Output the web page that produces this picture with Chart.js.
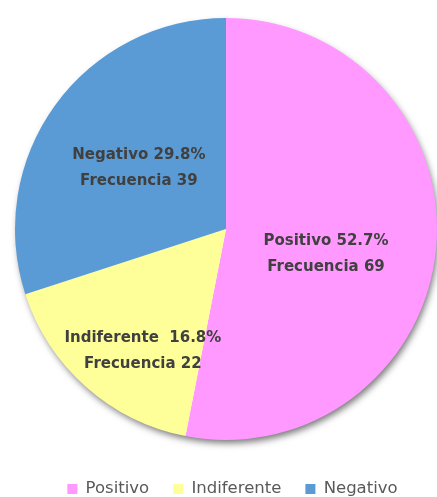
<!DOCTYPE html>
<html>
<head>
<meta charset="utf-8">
<script src="https://cdn.jsdelivr.net/npm/chart.js@4"></script>
<style>
  html, body { margin: 0; padding: 0; background: #ffffff; }
  #chart { display: block; }
</style>
</head>
<body>
<canvas id="chart" width="437" height="497"></canvas>
<script>
const categories = ["Positivo", "Indiferente", "Negativo"];
const frequencies = [69, 22, 39];
const percentLabels = ["52.7%", "16.8%", "29.8%"];
const sliceColors = ["#ff99ff", "#ffff99", "#5b9bd5"];

// where each slice's label sits, as a fraction of the radius from the centre
const labelOffsets = [
  { x: 0.474, y: 0.110, gap: " " },
  { x: -0.394, y: 0.570, gap: "  " },
  { x: -0.413, y: -0.298, gap: " " },
];

const pieShadow = {
  id: "pieShadow",
  beforeDatasetsDraw(chart) {
    const arc = chart.getDatasetMeta(0).data[0];
    if (!arc) return;
    const ctx = chart.ctx;
    ctx.save();
    ctx.shadowColor = "rgba(0, 0, 0, 0.55)";
    ctx.shadowBlur = 7;
    ctx.shadowOffsetX = 2;
    ctx.shadowOffsetY = 4;
    ctx.fillStyle = "#ffffff";
    ctx.beginPath();
    ctx.arc(arc.x, arc.y, arc.outerRadius - 1, 0, Math.PI * 2);
    ctx.fill();
    ctx.restore();
  },
};

const sliceLabels = {
  id: "sliceLabels",
  afterDatasetsDraw(chart) {
    const ctx = chart.ctx;
    const arcs = chart.getDatasetMeta(0).data;
    ctx.save();
    ctx.font = "bold 15px 'DejaVu Sans'";
    ctx.fillStyle = "#404040";
    ctx.textAlign = "center";
    ctx.textBaseline = "alphabetic";
    arcs.forEach((arc, i) => {
      const off = labelOffsets[i];
      const cx = arc.x + off.x * arc.outerRadius;
      const cy = arc.y + off.y * arc.outerRadius;
      ctx.fillText(`${categories[i]}${off.gap}${percentLabels[i]}`, cx, cy - 13 + 5.5);
      ctx.fillText(`Frecuencia ${frequencies[i]}`, cx, cy + 13 + 5.5);
    });
    ctx.restore();
  },
};

// push the legend down towards the bottom edge without shrinking the pie
const legendNudge = {
  id: "legendNudge",
  afterLayout(chart) {
    const legend = chart.legend;
    if (!legend) return;
    legend.top += 14.75;
    legend.bottom += 14.75;
    legend.left += 4.5;
    legend.right += 4.5;
  },
};

new Chart(document.getElementById("chart"), {
  type: "pie",
  data: {
    labels: categories,
    datasets: [
      {
        data: frequencies,
        backgroundColor: sliceColors,
        borderWidth: 0,
      },
    ],
  },
  options: {
    responsive: false,
    animation: false,
    events: [],
    layout: {
      padding: { top: 16, left: 15, right: -4, bottom: 4.5 },
    },
    plugins: {
      tooltip: { enabled: false },
      legend: {
        position: "bottom",
        labels: {
          boxWidth: 10,
          boxHeight: 10,
          padding: 24,
          color: "#595959",
          font: { family: "'DejaVu Sans'", size: 16.5 },
        },
      },
    },
  },
  plugins: [pieShadow, sliceLabels, legendNudge],
});
</script>
</body>
</html>
